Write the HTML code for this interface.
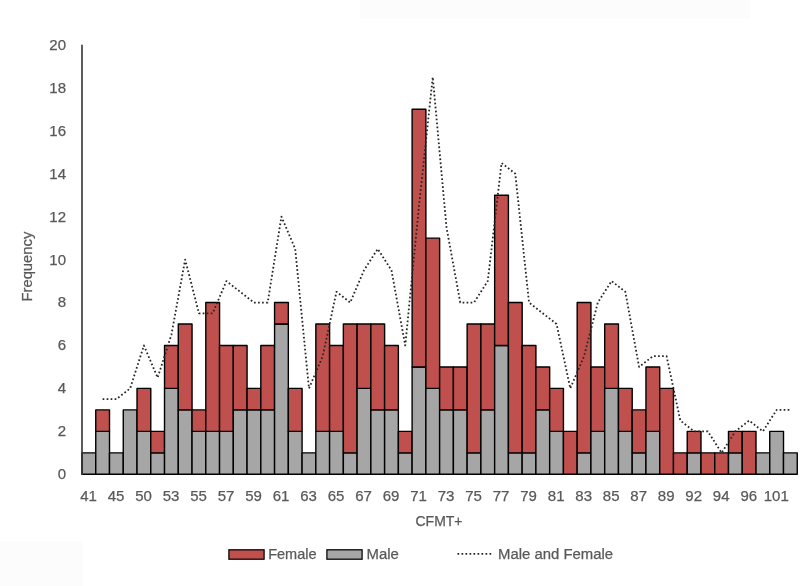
<!DOCTYPE html>
<html><head><meta charset="utf-8"><title>CFMT+ frequency chart</title>
<style>
html,body{margin:0;padding:0;background:#fff;}
body{width:800px;height:586px;overflow:hidden;}
svg{display:block;}
text{font-family:"Liberation Sans",sans-serif;fill:#595959;stroke:#595959;stroke-width:0.25px;}
</style></head><body>
<svg xmlns="http://www.w3.org/2000/svg" width="800" height="586" viewBox="0 0 800 586">
<rect width="800" height="586" fill="#ffffff"/>
<rect x="360" y="0" width="390" height="19" fill="#fcfcfc"/>
<rect x="0" y="541" width="83" height="45" fill="#fcfcfc"/>

<g stroke="#000" stroke-width="1.4" stroke-linejoin="round">
<rect x="82.00" y="452.83" width="13.76" height="21.47" fill="#A6A6A6"/>
<rect x="95.75" y="431.36" width="13.76" height="42.94" fill="#A6A6A6"/>
<rect x="95.75" y="409.89" width="13.76" height="21.47" fill="#C0504D"/>
<rect x="109.51" y="452.83" width="13.76" height="21.47" fill="#A6A6A6"/>
<rect x="123.27" y="409.89" width="13.76" height="64.41" fill="#A6A6A6"/>
<rect x="137.02" y="431.36" width="13.76" height="42.94" fill="#A6A6A6"/>
<rect x="137.02" y="388.42" width="13.76" height="42.94" fill="#C0504D"/>
<rect x="150.78" y="452.83" width="13.76" height="21.47" fill="#A6A6A6"/>
<rect x="150.78" y="431.36" width="13.76" height="21.47" fill="#C0504D"/>
<rect x="164.53" y="388.42" width="13.76" height="85.88" fill="#A6A6A6"/>
<rect x="164.53" y="345.48" width="13.76" height="42.94" fill="#C0504D"/>
<rect x="178.29" y="409.89" width="13.76" height="64.41" fill="#A6A6A6"/>
<rect x="178.29" y="324.01" width="13.76" height="85.88" fill="#C0504D"/>
<rect x="192.04" y="431.36" width="13.76" height="42.94" fill="#A6A6A6"/>
<rect x="192.04" y="409.89" width="13.76" height="21.47" fill="#C0504D"/>
<rect x="205.80" y="431.36" width="13.76" height="42.94" fill="#A6A6A6"/>
<rect x="205.80" y="302.54" width="13.76" height="128.82" fill="#C0504D"/>
<rect x="219.55" y="431.36" width="13.76" height="42.94" fill="#A6A6A6"/>
<rect x="219.55" y="345.48" width="13.76" height="85.88" fill="#C0504D"/>
<rect x="233.31" y="409.89" width="13.76" height="64.41" fill="#A6A6A6"/>
<rect x="233.31" y="345.48" width="13.76" height="64.41" fill="#C0504D"/>
<rect x="247.06" y="409.89" width="13.76" height="64.41" fill="#A6A6A6"/>
<rect x="247.06" y="388.42" width="13.76" height="21.47" fill="#C0504D"/>
<rect x="260.81" y="409.89" width="13.76" height="64.41" fill="#A6A6A6"/>
<rect x="260.81" y="345.48" width="13.76" height="64.41" fill="#C0504D"/>
<rect x="274.57" y="324.01" width="13.76" height="150.29" fill="#A6A6A6"/>
<rect x="274.57" y="302.54" width="13.76" height="21.47" fill="#C0504D"/>
<rect x="288.33" y="431.36" width="13.76" height="42.94" fill="#A6A6A6"/>
<rect x="288.33" y="388.42" width="13.76" height="42.94" fill="#C0504D"/>
<rect x="302.08" y="452.83" width="13.76" height="21.47" fill="#A6A6A6"/>
<rect x="315.84" y="431.36" width="13.76" height="42.94" fill="#A6A6A6"/>
<rect x="315.84" y="324.01" width="13.76" height="107.35" fill="#C0504D"/>
<rect x="329.59" y="431.36" width="13.76" height="42.94" fill="#A6A6A6"/>
<rect x="329.59" y="345.48" width="13.76" height="85.88" fill="#C0504D"/>
<rect x="343.35" y="452.83" width="13.76" height="21.47" fill="#A6A6A6"/>
<rect x="343.35" y="324.01" width="13.76" height="128.82" fill="#C0504D"/>
<rect x="357.10" y="388.42" width="13.76" height="85.88" fill="#A6A6A6"/>
<rect x="357.10" y="324.01" width="13.76" height="64.41" fill="#C0504D"/>
<rect x="370.86" y="409.89" width="13.76" height="64.41" fill="#A6A6A6"/>
<rect x="370.86" y="324.01" width="13.76" height="85.88" fill="#C0504D"/>
<rect x="384.61" y="409.89" width="13.76" height="64.41" fill="#A6A6A6"/>
<rect x="384.61" y="345.48" width="13.76" height="64.41" fill="#C0504D"/>
<rect x="398.37" y="452.83" width="13.76" height="21.47" fill="#A6A6A6"/>
<rect x="398.37" y="431.36" width="13.76" height="21.47" fill="#C0504D"/>
<rect x="412.12" y="366.95" width="13.76" height="107.35" fill="#A6A6A6"/>
<rect x="412.12" y="109.31" width="13.76" height="257.64" fill="#C0504D"/>
<rect x="425.88" y="388.42" width="13.76" height="85.88" fill="#A6A6A6"/>
<rect x="425.88" y="238.13" width="13.76" height="150.29" fill="#C0504D"/>
<rect x="439.63" y="409.89" width="13.76" height="64.41" fill="#A6A6A6"/>
<rect x="439.63" y="366.95" width="13.76" height="42.94" fill="#C0504D"/>
<rect x="453.39" y="409.89" width="13.76" height="64.41" fill="#A6A6A6"/>
<rect x="453.39" y="366.95" width="13.76" height="42.94" fill="#C0504D"/>
<rect x="467.14" y="452.83" width="13.76" height="21.47" fill="#A6A6A6"/>
<rect x="467.14" y="324.01" width="13.76" height="128.82" fill="#C0504D"/>
<rect x="480.90" y="409.89" width="13.76" height="64.41" fill="#A6A6A6"/>
<rect x="480.90" y="324.01" width="13.76" height="85.88" fill="#C0504D"/>
<rect x="494.65" y="345.48" width="13.76" height="128.82" fill="#A6A6A6"/>
<rect x="494.65" y="195.19" width="13.76" height="150.29" fill="#C0504D"/>
<rect x="508.41" y="452.83" width="13.76" height="21.47" fill="#A6A6A6"/>
<rect x="508.41" y="302.54" width="13.76" height="150.29" fill="#C0504D"/>
<rect x="522.16" y="452.83" width="13.76" height="21.47" fill="#A6A6A6"/>
<rect x="522.16" y="345.48" width="13.76" height="107.35" fill="#C0504D"/>
<rect x="535.91" y="409.89" width="13.76" height="64.41" fill="#A6A6A6"/>
<rect x="535.91" y="366.95" width="13.76" height="42.94" fill="#C0504D"/>
<rect x="549.67" y="431.36" width="13.76" height="42.94" fill="#A6A6A6"/>
<rect x="549.67" y="388.42" width="13.76" height="42.94" fill="#C0504D"/>
<rect x="563.42" y="431.36" width="13.76" height="42.94" fill="#C0504D"/>
<rect x="577.18" y="452.83" width="13.76" height="21.47" fill="#A6A6A6"/>
<rect x="577.18" y="302.54" width="13.76" height="150.29" fill="#C0504D"/>
<rect x="590.93" y="431.36" width="13.76" height="42.94" fill="#A6A6A6"/>
<rect x="590.93" y="366.95" width="13.76" height="64.41" fill="#C0504D"/>
<rect x="604.69" y="388.42" width="13.76" height="85.88" fill="#A6A6A6"/>
<rect x="604.69" y="324.01" width="13.76" height="64.41" fill="#C0504D"/>
<rect x="618.45" y="431.36" width="13.76" height="42.94" fill="#A6A6A6"/>
<rect x="618.45" y="388.42" width="13.76" height="42.94" fill="#C0504D"/>
<rect x="632.20" y="452.83" width="13.76" height="21.47" fill="#A6A6A6"/>
<rect x="632.20" y="409.89" width="13.76" height="42.94" fill="#C0504D"/>
<rect x="645.96" y="431.36" width="13.76" height="42.94" fill="#A6A6A6"/>
<rect x="645.96" y="366.95" width="13.76" height="64.41" fill="#C0504D"/>
<rect x="659.71" y="388.42" width="13.76" height="85.88" fill="#C0504D"/>
<rect x="673.47" y="452.83" width="13.76" height="21.47" fill="#C0504D"/>
<rect x="687.22" y="452.83" width="13.76" height="21.47" fill="#A6A6A6"/>
<rect x="687.22" y="431.36" width="13.76" height="21.47" fill="#C0504D"/>
<rect x="700.98" y="452.83" width="13.76" height="21.47" fill="#C0504D"/>
<rect x="714.73" y="452.83" width="13.76" height="21.47" fill="#C0504D"/>
<rect x="728.49" y="452.83" width="13.76" height="21.47" fill="#A6A6A6"/>
<rect x="728.49" y="431.36" width="13.76" height="21.47" fill="#C0504D"/>
<rect x="742.24" y="431.36" width="13.76" height="42.94" fill="#C0504D"/>
<rect x="756.00" y="452.83" width="13.76" height="21.47" fill="#A6A6A6"/>
<rect x="769.75" y="431.36" width="13.76" height="42.94" fill="#A6A6A6"/>
<rect x="783.50" y="452.83" width="13.76" height="21.47" fill="#A6A6A6"/>
</g>
<line x1="82" y1="44.7" x2="82" y2="475" stroke="#333" stroke-width="1.6"/>
<polyline points="102.63,399.16 116.39,399.16 130.14,388.42 143.90,345.48 157.65,377.69 171.41,334.75 185.16,259.60 198.92,313.28 212.67,313.28 226.43,281.07 240.18,291.81 253.94,302.54 267.69,302.54 281.45,216.66 295.20,248.87 308.96,388.42 322.71,356.22 336.47,291.81 350.22,302.54 363.98,270.34 377.73,248.87 391.49,270.34 405.24,345.48 419.00,205.93 432.75,77.11 446.51,227.40 460.26,302.54 474.02,302.54 487.77,281.07 501.53,162.99 515.28,173.72 529.04,302.54 542.79,313.28 556.55,324.01 570.30,388.42 584.06,356.22 597.81,302.54 611.57,281.07 625.32,291.81 639.08,366.95 652.83,356.22 666.59,356.22 680.34,420.62 694.10,431.36 707.85,431.36 721.61,452.83 735.36,431.36 749.12,420.62 762.87,431.36 776.63,409.89 790.38,409.89" fill="none" stroke="#262626" stroke-width="1.8" stroke-dasharray="1.7 2.3" stroke-linejoin="round"/>
<text x="66" y="479.20" font-size="15" text-anchor="end">0</text>
<text x="66" y="436.26" font-size="15" text-anchor="end">2</text>
<text x="66" y="393.32" font-size="15" text-anchor="end">4</text>
<text x="66" y="350.38" font-size="15" text-anchor="end">6</text>
<text x="66" y="307.44" font-size="15" text-anchor="end">8</text>
<text x="66" y="264.50" font-size="15" text-anchor="end">10</text>
<text x="66" y="221.56" font-size="15" text-anchor="end">12</text>
<text x="66" y="178.62" font-size="15" text-anchor="end">14</text>
<text x="66" y="135.68" font-size="15" text-anchor="end">16</text>
<text x="66" y="92.74" font-size="15" text-anchor="end">18</text>
<text x="66" y="49.80" font-size="15" text-anchor="end">20</text>
<text x="88.48" y="501" font-size="15" text-anchor="middle">41</text>
<text x="115.99" y="501" font-size="15" text-anchor="middle">45</text>
<text x="143.50" y="501" font-size="15" text-anchor="middle">50</text>
<text x="171.01" y="501" font-size="15" text-anchor="middle">53</text>
<text x="198.52" y="501" font-size="15" text-anchor="middle">55</text>
<text x="226.03" y="501" font-size="15" text-anchor="middle">57</text>
<text x="253.54" y="501" font-size="15" text-anchor="middle">59</text>
<text x="281.05" y="501" font-size="15" text-anchor="middle">61</text>
<text x="308.56" y="501" font-size="15" text-anchor="middle">63</text>
<text x="336.07" y="501" font-size="15" text-anchor="middle">65</text>
<text x="363.58" y="501" font-size="15" text-anchor="middle">67</text>
<text x="391.09" y="501" font-size="15" text-anchor="middle">69</text>
<text x="418.60" y="501" font-size="15" text-anchor="middle">71</text>
<text x="446.11" y="501" font-size="15" text-anchor="middle">73</text>
<text x="473.62" y="501" font-size="15" text-anchor="middle">75</text>
<text x="501.13" y="501" font-size="15" text-anchor="middle">77</text>
<text x="528.64" y="501" font-size="15" text-anchor="middle">79</text>
<text x="556.15" y="501" font-size="15" text-anchor="middle">81</text>
<text x="583.66" y="501" font-size="15" text-anchor="middle">83</text>
<text x="611.17" y="501" font-size="15" text-anchor="middle">85</text>
<text x="638.68" y="501" font-size="15" text-anchor="middle">87</text>
<text x="666.19" y="501" font-size="15" text-anchor="middle">89</text>
<text x="693.70" y="501" font-size="15" text-anchor="middle">92</text>
<text x="721.21" y="501" font-size="15" text-anchor="middle">94</text>
<text x="748.72" y="501" font-size="15" text-anchor="middle">96</text>
<text x="776.23" y="501" font-size="15" text-anchor="middle">101</text>
<text x="439" y="525.6" font-size="14" text-anchor="middle">CFMT+</text>
<text transform="translate(32.4,266.6) rotate(-90)" font-size="14.8" text-anchor="middle">Frequency</text>
<rect x="228.9" y="549.8" width="35.2" height="9.4" fill="#C0504D" stroke="#000" stroke-width="1.25"/>
<text x="268.2" y="558.8" font-size="14.5">Female</text>
<rect x="326.9" y="549.8" width="35.2" height="9.4" fill="#A6A6A6" stroke="#000" stroke-width="1.25"/>
<text x="366.6" y="558.8" font-size="14.9">Male</text>
<line x1="457.5" y1="553.8" x2="491.5" y2="553.8" stroke="#262626" stroke-width="1.8" stroke-dasharray="1.7 2.3"/>
<text x="498" y="558.8" font-size="14.9">Male and Female</text>
</svg></body></html>
